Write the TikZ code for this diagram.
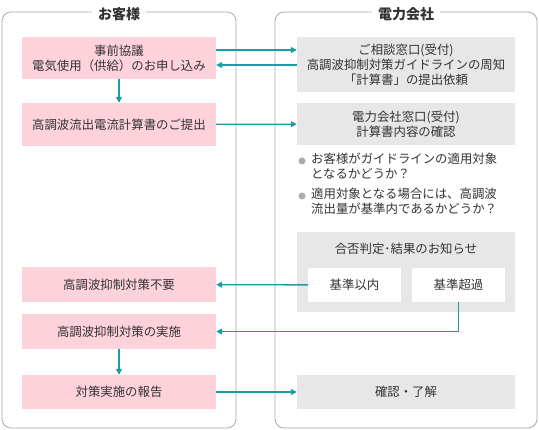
\documentclass[tikz,border=0pt]{standalone}
\usepackage{fontspec}
\setmainfont{Noto Sans CJK JP}
\usetikzlibrary{arrows.meta}
\definecolor{custpink}{HTML}{FDD2DB}
\definecolor{elecgray}{HTML}{E7E7E7}
\definecolor{flowteal}{HTML}{1A9CA6}
\definecolor{panelgray}{HTML}{ABABAB}
\definecolor{inkgray}{HTML}{333333}
\begin{document}
\begin{tikzpicture}[x=1pt,y=-1pt,
		every node/.style={text=inkgray,font=\fontsize{12.4}{15}\selectfont},
		panel/.style={draw=panelgray,line width=0.8pt,rounded corners=9pt},
		paneltitle/.style={fill=white,inner xsep=6pt,inner ysep=2pt,font=\fontsize{14}{16}\selectfont\bfseries},
		custbox/.style={fill=custpink,inner sep=0pt,minimum width=194pt,align=center},
		elecbox/.style={fill=elecgray,inner sep=0pt,minimum width=218pt,align=center},
		resultbox/.style={fill=white,inner sep=0pt,minimum width=93pt,minimum height=34pt},
		flow/.style={draw=flowteal,line width=1.3pt,-{Triangle[length=6pt,width=6pt]}},
		dot/.style={circle,fill=panelgray,inner sep=0pt,minimum size=7pt}]
	\useasboundingbox (0,0) rectangle (539,430);
	% panels
	\draw[panel] (2,12) rectangle (236,428);
	\draw[panel] (275,12) rectangle (537,428);
	\node[paneltitle] (custtitle) at (119,14) {お客様};
	\node[paneltitle] (electitle) at (406,14) {電力会社};
	% customer side
	\node[custbox,minimum height=42pt] (prior) at (119,58) {事前協議\\電気使用（供給）のお申し込み};
	\node[custbox,minimum height=43pt] (submit) at (119,124.5) {高調波流出電流計算書のご提出};
	\node[custbox,minimum height=35pt] (noneed) at (119,284.5) {高調波抑制対策不要};
	\node[custbox,minimum height=35pt] (measure) at (119,331.5) {高調波抑制対策の実施};
	\node[custbox,minimum height=34pt] (report) at (119,392) {対策実施の報告};
	% utility side
	\node[elecbox,minimum height=55pt] (consult) at (406,64.5) {ご相談窓口(受付)\\高調波抑制対策ガイドラインの周知\\「計算書」の提出依頼};
	\node[elecbox,minimum height=42pt] (check) at (406,124) {電力会社窓口(受付)\\計算書内容の確認};
	\node[dot] (dota) at (302,161) {};
	\node[anchor=north west,align=left,inner sep=0pt] (targeta) at (311,153) {お客様がガイドラインの適用対象\\となるかどうか？};
	\node[dot] (dotb) at (302,196) {};
	\node[anchor=north west,align=left,inner sep=0pt] (targetb) at (311,188) {適用対象となる場合には、高調波\\流出量が基準内であるかどうか？};
	\node[elecbox,minimum height=80pt] (judge) at (406,272) {};
	\node (judgetitle) at (406,249) {合否判定･結果のお知らせ};
	\node[resultbox] (within) at (354.5,285) {基準以内};
	\node[resultbox] (over) at (458.5,285) {基準超過};
	\node[elecbox,minimum height=34pt] (confirm) at (406,392) {確認・了解};
	% connectors
	\draw[flow] ([yshift=8pt]prior.east) -- ([yshift=8pt]prior.east -| consult.west);
	\draw[flow] ([yshift=-7pt]prior.east -| consult.west) -- ([yshift=-7pt]prior.east);
	\draw[flow] (prior) -- (submit);
	\draw[flow] (submit) -- (check);
	\draw[flow] (within) -- (noneed);
	\draw[flow] (over.south) |- (measure.east);
	\draw[flow] (measure) -- (report);
	\draw[flow] (report) -- (confirm);
\end{tikzpicture}
\end{document}
